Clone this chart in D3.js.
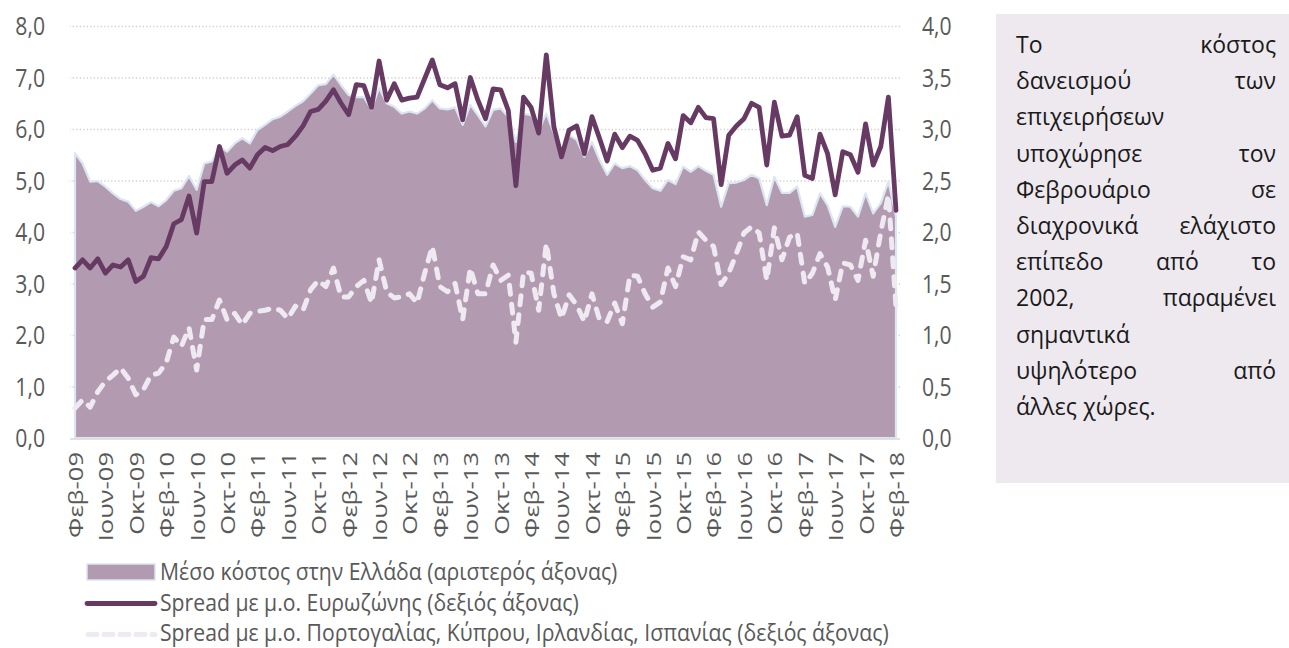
<!DOCTYPE html>
<html><head><meta charset="utf-8">
<script src="https://cdn.jsdelivr.net/npm/d3@7/dist/d3.min.js"></script>
<style>
body{margin:0;background:#fff;}
svg{display:block;font-family:"Open Sans",sans-serif;}
</style></head>
<body><svg id="c" width="1289" height="648"></svg>
<script>
// ---- DATA ----
const monthNames = ["Ιαν","Φεβ","Μαρ","Απρ","Μαϊ","Ιουν","Ιουλ","Αυγ","Σεπ","Οκτ","Νοε","Δεκ"];
const startYear = 2009, startMonth = 1, nMonths = 109;
const categories = [];
for (let k = 0; k < nMonths; k++) {
  const m = (startMonth + k) % 12, y = startYear + Math.floor((startMonth + k) / 12);
  categories.push(monthNames[m] + "-" + String(y).slice(2));
}
const tickLabels = ["Φεβ-09","Ιουν-09","Οκτ-09","Φεβ-10","Ιουν-10","Οκτ-10","Φεβ-11","Ιουν-11","Οκτ-11",
  "Φεβ-12","Ιουν-12","Οκτ-12","Φεβ-13","Ιουν-13","Οκτ-13","Φεβ-14","Ιουν-14","Οκτ-14","Φεβ-15","Ιουν-15",
  "Οκτ-15","Φεβ-16","Ιουν-16","Οκτ-16","Φεβ-17","Ιουν-17","Οκτ-17","Φεβ-18"];
const leftTicks = [0,1,2,3,4,5,6,7,8];
const rightTicks = [0,0.5,1,1.5,2,2.5,3,3.5,4];

// Μέσο κόστος στην Ελλάδα (left axis)
const greekCost = [5.53,5.33,4.98,4.99,4.88,4.75,4.64,4.59,4.41,4.49,4.58,4.50,4.62,4.80,4.85,5.09,4.82,5.33,
  5.37,5.66,5.56,5.72,5.82,5.72,5.98,6.08,6.19,6.24,6.34,6.45,6.54,6.69,6.85,6.87,7.06,6.85,
  6.66,6.62,6.62,6.38,6.80,6.50,6.43,6.30,6.34,6.30,6.40,6.56,6.40,6.38,6.42,6.08,6.47,6.27,
  6.05,6.37,6.40,6.24,5.75,6.30,6.27,5.98,6.30,5.92,5.50,5.88,5.79,5.46,5.75,5.40,5.11,5.33,
  5.24,5.28,5.20,5.01,4.85,4.80,5.01,4.93,5.27,5.17,5.28,5.19,5.11,4.49,4.95,4.96,5.01,5.11,
  5.04,4.52,5.07,4.76,4.76,4.88,4.30,4.33,4.75,4.52,4.10,4.50,4.49,4.30,4.75,4.36,4.56,4.98,4.30];
// Spread με μ.ο. Ευρωζώνης (right axis)
const euroSpread = [1.65,1.73,1.65,1.74,1.60,1.68,1.66,1.73,1.52,1.57,1.75,1.74,1.86,2.08,2.12,2.35,1.99,2.49,
  2.49,2.83,2.57,2.65,2.70,2.62,2.75,2.82,2.79,2.83,2.85,2.93,3.03,3.17,3.19,3.27,3.38,3.25,
  3.14,3.43,3.42,3.21,3.66,3.28,3.44,3.28,3.30,3.31,3.49,3.67,3.43,3.40,3.44,3.09,3.50,3.28,
  3.10,3.39,3.38,3.18,2.45,3.31,3.21,2.96,3.72,3.02,2.73,2.99,3.03,2.76,3.12,2.91,2.69,2.95,
  2.82,2.93,2.89,2.76,2.60,2.62,2.86,2.71,3.13,3.06,3.21,3.11,3.10,2.46,2.94,3.03,3.10,3.25,
  3.21,2.65,3.26,2.93,2.94,3.12,2.55,2.52,2.95,2.76,2.36,2.78,2.75,2.58,3.05,2.65,2.83,3.31,2.21];
// Spread με μ.ο. Πορτογαλίας, Κύπρου, Ιρλανδίας, Ισπανίας (right axis)
const periSpread = [0.29,0.37,0.30,0.45,0.55,0.61,0.68,0.58,0.42,0.47,0.61,0.63,0.73,0.98,0.89,1.07,0.66,1.15,
  1.15,1.34,1.15,1.21,1.10,1.21,1.23,1.24,1.26,1.24,1.16,1.28,1.24,1.44,1.53,1.47,1.65,1.37,
  1.37,1.47,1.53,1.31,1.73,1.42,1.36,1.37,1.40,1.31,1.60,1.86,1.47,1.42,1.50,1.15,1.65,1.40,
  1.40,1.68,1.53,1.58,0.93,1.61,1.60,1.24,1.89,1.40,1.16,1.39,1.29,1.13,1.40,1.15,1.13,1.31,
  1.11,1.58,1.57,1.40,1.27,1.32,1.65,1.47,1.76,1.73,2.00,1.92,1.86,1.49,1.60,1.79,1.99,2.05,
  1.99,1.53,2.04,1.73,1.95,1.99,1.50,1.60,1.79,1.66,1.34,1.70,1.68,1.53,1.92,1.57,2.00,2.36,1.27];

const legendLabels = ["Μέσο κόστος στην Ελλάδα (αριστερός άξονας)",
  "Spread με μ.ο. Ευρωζώνης (δεξιός άξονας)",
  "Spread με μ.ο. Πορτογαλίας, Κύπρου, Ιρλανδίας, Ισπανίας (δεξιός άξονας)"];
const noteLines = [["Το","κόστος"],["δανεισμού","των"],["επιχειρήσεων"],["υποχώρησε","τον"],
  ["Φεβρουάριο","σε"],["διαχρονικά","ελάχιστο"],["επίπεδο","από","το"],["2002,","παραμένει"],
  ["σημαντικά"],["υψηλότερο","από"],["άλλες","χώρες."]];

// ---- CHART ----
const svg = d3.select("#c");
const X0 = 75, X1 = 896, Y0 = 438, Y1 = 26;
const x = d3.scalePoint().domain(categories).range([X0, X1]);
const yL = d3.scaleLinear().domain([0, 8]).range([Y0, Y1]);
const yR = d3.scaleLinear().domain([0, 4]).range([Y0, Y1]);
const fmt = d => d3.format(".1f")(d).replace(".", ",");
const gray = "#595959";
const FS = 21.2, SY = 1.24;   // axis font size and vertical stretch
const LSY = 1.12;             // legend vertical stretch

// gridlines
const grid = svg.append("g").attr("transform", `translate(${X1 + 4},0)`)
  .call(d3.axisLeft(yL).tickValues(leftTicks.slice(1)).tickSize(X1 + 4 - 70).tickFormat(""));
grid.select(".domain").remove();
grid.selectAll("line").attr("stroke", "#d0d0d0").attr("stroke-width", 1.3).attr("stroke-dasharray", "1.3,2.2");

// area
const cats = categories.map((c, i) => i);
svg.append("path")
  .datum(cats)
  .attr("d", d3.area().x(i => x(categories[i])).y0(yL(0)).y1(i => yL(greekCost[i])))
  .attr("fill", "#b29bb0").attr("stroke", "#dce6f2").attr("stroke-width", 2.2).attr("stroke-linejoin", "round");

// bottom line
svg.append("line").attr("x1", 70).attr("x2", X1 + 4).attr("y1", Y0 + 1).attr("y2", Y0 + 1)
  .attr("stroke", "#d9d9d9").attr("stroke-width", 1.5);

// periphery dashed
svg.append("path").datum(cats)
  .attr("d", d3.line().x(i => x(categories[i])).y(i => yR(periSpread[i])))
  .attr("fill", "none").attr("stroke", "#efe9f1").attr("stroke-width", 5)
  .attr("stroke-dasharray", "9,10").attr("stroke-linecap", "round").attr("stroke-linejoin", "round");

// euro spread line
svg.append("path").datum(cats)
  .attr("d", d3.line().x(i => x(categories[i])).y(i => yR(euroSpread[i])))
  .attr("fill", "none").attr("stroke", "#673a64").attr("stroke-width", 4.8)
  .attr("stroke-linejoin", "round").attr("stroke-linecap", "round");

// left axis
const la = svg.append("g").attr("transform", "translate(50,0)")
  .call(d3.axisLeft(yL).tickValues(leftTicks).tickFormat(fmt).tickSize(0).tickPadding(5));
la.select(".domain").remove();
la.selectAll("text").attr("font-size", FS).attr("fill", gray).attr("font-family", "Open Sans")
  .attr("dy", "0.34em").attr("transform", `scale(1,${SY})`);

// right axis
const ra = svg.append("g").attr("transform", "translate(918,0)")
  .call(d3.axisRight(yR).tickValues(rightTicks).tickFormat(fmt).tickSize(0).tickPadding(4));
ra.select(".domain").remove();
ra.selectAll("text").attr("font-size", FS).attr("fill", gray).attr("font-family", "Open Sans")
  .attr("dy", "0.34em").attr("transform", `scale(1,${SY})`);

// x axis
const xa = svg.append("g").attr("transform", `translate(0,${Y0})`)
  .call(d3.axisBottom(x).tickValues(categories.filter((c, i) => i % 4 === 0)).tickSize(0)
    .tickFormat((c) => tickLabels[categories.indexOf(c) / 4]));
xa.select(".domain").remove();
xa.selectAll("text").attr("font-size", FS - 0.6).attr("fill", gray).attr("font-family", "Open Sans")
  .attr("text-anchor", "end").attr("transform", `rotate(-90) scale(${SY},1)`)
  .attr("x", -14 / SY).attr("y", 0).attr("dy", "0.36em");

// legend
const rowY = [572, 602.5, 633];
const lg = svg.append("g").attr("font-family", "Open Sans").attr("font-size", FS).attr("fill", gray);
lg.append("rect").attr("x", 87).attr("y", rowY[0] - 8).attr("width", 68).attr("height", 16)
  .attr("fill", "#b29bb0").attr("stroke", "#dce6f2").attr("stroke-width", 1.5);
lg.append("line").attr("x1", 87).attr("x2", 155).attr("y1", rowY[1] + 1).attr("y2", rowY[1] + 1)
  .attr("stroke", "#673a64").attr("stroke-width", 4.8).attr("stroke-linecap", "round");
lg.append("line").attr("x1", 88).attr("x2", 155).attr("y1", rowY[2] + 1.5).attr("y2", rowY[2] + 1.5)
  .attr("stroke", "#efe9f1").attr("stroke-width", 5).attr("stroke-dasharray", "9,7").attr("stroke-linecap", "round");
legendLabels.forEach((t, k) => {
  lg.append("g").attr("transform", `translate(160,${rowY[k]}) scale(1,${LSY})`)
    .append("text").attr("x", 0).attr("y", 0).attr("dy", "0.35em").text(t);
});

// note box
svg.append("rect").attr("x", 996).attr("y", 14).attr("width", 293).attr("height", 469).attr("fill", "#eee9ef");
const nb = svg.append("g").attr("font-family", "Open Sans").attr("font-size", 23).attr("fill", "#1a1a1a");
const TL = 1016, TR = 1276;
noteLines.forEach((words, k) => {
  const yy = 45 + 36.2 * k;
  const last = k === noteLines.length - 1;
  const nodes = words.map(w => nb.append("text").attr("y", yy).attr("dy", "0.35em").text(w));
  const widths = nodes.map(n => n.node().getComputedTextLength());
  const total = d3.sum(widths);
  const gap = (words.length > 1 && !last) ? (TR - TL - total) / (words.length - 1) : 6.5;
  let cx = TL;
  nodes.forEach((n, j) => { n.attr("x", cx); cx += widths[j] + gap; });
});
</script></body></html>
